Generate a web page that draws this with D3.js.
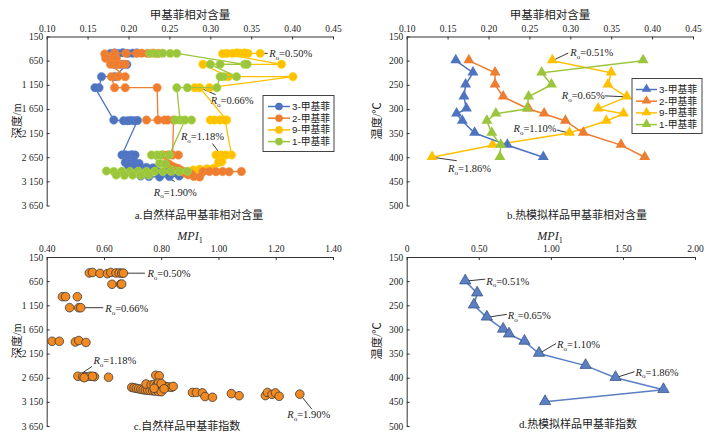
<!DOCTYPE html>
<html><head><meta charset="utf-8">
<script src="https://cdn.jsdelivr.net/npm/d3@7"></script>
<style>body{margin:0;background:#fff}</style>
</head><body>
<svg id="c" width="718" height="441"></svg>
<script>
// ---------------- DATA ----------------
const seriesNames = ['3-甲基菲', '2-甲基菲', '9-甲基菲', '1-甲基菲'];
const relTicks = [0.10, 0.15, 0.20, 0.25, 0.30, 0.35, 0.40, 0.45];
const depthTicks = [150, 650, 1150, 1650, 2150, 2650, 3150, 3650];
const tempTicks = [150, 200, 250, 300, 350, 400, 450, 500];
const mpiNatTicks = [0.40, 0.60, 0.80, 1.00, 1.20, 1.40];
const mpiSimTicks = [0, 0.50, 1.00, 1.50, 2.00];

// a. natural samples: [depth (m), relative content]
const natMP3 = [[490,0.210],[495,0.205],[500,0.199],[485,0.193],[500,0.188],[490,0.183],[500,0.178],
  [730,0.183],[725,0.188],[726,0.193],[730,0.198],[982,0.183],[982,0.167],[1210,0.164],[1210,0.159],
  [1880,0.182],[1895,0.194],[1895,0.199],[1890,0.203],[1895,0.207],[1890,0.211],
  [2604,0.192],[2600,0.196],[2610,0.200],[2600,0.204],[2605,0.208],
  [2700,0.200],[2720,0.206],[2760,0.196],[2780,0.202],[2790,0.208],[2780,0.213],[2830,0.200],[2850,0.207],
  [2850,0.214],[2860,0.222],[2870,0.230],[2940,0.235],[2950,0.245],[3040,0.262],[3050,0.250],[3060,0.238],
  [3050,0.225],[3040,0.215]];
const natMP2 = [[500,0.237],[495,0.230],[500,0.223],[495,0.216],[500,0.210],[500,0.197],[495,0.183],[510,0.171],
  [600,0.172],[605,0.178],[600,0.185],[726,0.196],[726,0.190],[726,0.184],[726,0.178],
  [982,0.196],[982,0.187],[982,0.179],[1210,0.183],[1210,0.196],[1210,0.235],
  [1880,0.236],[1880,0.222],[1880,0.244],[1880,0.248],[1880,0.255],
  [2604,0.254],[2604,0.261],[2604,0.248],[2604,0.242],
  [2776,0.2465],[2800,0.250],[2846,0.2546],[2870,0.258],[2885,0.2606],[2920,0.264],[2946,0.2668],[2980,0.270],
  [3015,0.273],[3000,0.277],[3050,0.280],[3060,0.287],[2950,0.291],[2946,0.299],[2950,0.307],[2946,0.315],
  [2950,0.323],[2946,0.338]];
const natMP9 = [[500,0.361],[500,0.346],[490,0.342],[495,0.336],[490,0.332],[500,0.327],[500,0.320],[505,0.315],
  [726,0.387],[726,0.291],[982,0.322],[982,0.401],[1210,0.299],[1210,0.281],[1210,0.287],
  [1880,0.320],[1880,0.300],[1880,0.305],[1880,0.312],[1880,0.318],
  [2604,0.326],[2604,0.319],[2604,0.313],[2604,0.307],
  [2742,0.314],[2760,0.310],[2880,0.304],[2890,0.296],[2900,0.287],[2915,0.279],[2985,0.267],[2990,0.259],[3000,0.263]];
const natMP1 = [[500,0.226],[505,0.234],[495,0.242],[500,0.251],[500,0.259],
  [726,0.342],[726,0.345],[726,0.312],[726,0.300],[982,0.332],[982,0.316],[982,0.312],
  [1210,0.308],[1210,0.272],[1210,0.259],[1880,0.263],[1880,0.257],[1880,0.277],[1880,0.269],
  [2604,0.250],[2604,0.240],[2604,0.235],[2604,0.228],
  [2780,0.238],[2790,0.245],[2940,0.272],[2945,0.262],[2940,0.252],[2945,0.242],[2940,0.232],[2945,0.222],
  [2940,0.212],[2945,0.202],[2940,0.192],[2945,0.182],[2935,0.173],[3020,0.185],[3025,0.195],[3020,0.205],
  [3025,0.215],[3020,0.225]];

// b. thermal simulation: temperature (°C) and relative content
const tempsB = [200, 225, 250, 275, 300, 310, 325, 350, 375, 400];
const simMP3 = [0.160, 0.181, 0.172, 0.170, 0.173, 0.161, 0.168, 0.183, 0.223, 0.267];
const simMP2 = [0.176, 0.208, 0.208, 0.218, 0.249, 0.268, 0.294, 0.316, 0.362, 0.391];
const simMP9 = [0.278, 0.350, 0.346, 0.369, 0.334, 0.365, 0.344, 0.299, 0.205, 0.131];
const simMP1 = [0.389, 0.265, 0.277, 0.249, 0.247, 0.209, 0.198, 0.204, 0.215, 0.214];

// c. natural samples MPI1: [depth, MPI1]
const natMPI = [[480,0.549],[470,0.560],[490,0.586],[495,0.612],[470,0.624],[480,0.642],[480,0.653],[485,0.662],[485,0.668],
  [715,0.628],[715,0.658],[710,0.662],[972,0.455],[972,0.466],[972,0.507],[1200,0.480],[1200,0.512],[1200,0.519],
  [1896,0.419],[1896,0.444],[1910,0.500],[1880,0.512],[1920,0.537],
  [2620,0.509],[2630,0.526],[2630,0.537],[2620,0.551],[2630,0.567],[2640,0.616],[2650,0.531],[2620,0.560],
  [2600,0.781],[2610,0.793],
  [2850,0.697],[2860,0.705],[2870,0.713],[2880,0.721],[2890,0.729],[2900,0.737],[2905,0.745],[2910,0.753],
  [2915,0.761],[2920,0.770],[2925,0.778],[2935,0.790],[2780,0.747],[2800,0.765],[2790,0.775],[2800,0.785],
  [2810,0.795],[2820,0.805],[2830,0.815],[2840,0.825],[2850,0.835],[2830,0.842],[2760,0.790],[2770,0.800],
  [2940,0.800],[2880,0.810],[2870,0.775],
  [2955,0.909],[2955,0.923],[2965,0.944],[3040,0.953],[3055,0.979],[2980,1.045],[3022,1.072],
  [3020,1.164],[2955,1.171],[2995,1.187],[2965,1.199],[3035,1.212],[2990,1.284]];

// d. thermal simulation MPI1
const tempsD = [200, 225, 250, 275, 300, 310, 325, 350, 375, 400, 425, 450];
const simMPI = [0.406, 0.489, 0.466, 0.556, 0.669, 0.710, 0.817, 0.918, 1.241, 1.449, 1.781, 0.960];

// Ro labels with the data point each one refers to
const roA = [{t:'0.50%', p:[500,0.361]}, {t:'0.66%', p:[1210,0.287]}, {t:'1.18%', p:[2604,0.313]}, {t:'1.90%', p:[3050,0.245]}];
const roB = [{t:'0.51%', p:[200,0.278]}, {t:'0.65%', p:[275,0.369]}, {t:'1.10%', p:[350,0.299]}, {t:'1.86%', p:[400,0.131]}];
const roC = [{t:'0.50%', p:[485,0.668]}, {t:'0.66%', p:[1200,0.519]}, {t:'1.18%', p:[2614,0.509]}, {t:'1.90%', p:[2990,1.284]}];
const roD = [{t:'0.51%', p:[200,0.406]}, {t:'0.65%', p:[275,0.556]}, {t:'1.10%', p:[350,0.918]}, {t:'1.86%', p:[400,1.449]}];

// ---------------- STYLE / LAYOUT ----------------
const colors = ['#4f74bf', '#ed7d31', '#ffc000', '#9bc53d'];
const serif = "'Liberation Serif','Times New Roman',serif";
const cjk = "'Liberation Serif','Noto Sans CJK SC',sans-serif";
const legFont = "'Liberation Sans','Noto Sans CJK SC',sans-serif";
const svg = d3.select('#c');

const L = {
  a: {x0:46.7, x1:333, y0:36.5, y1:205.5},
  b: {x0:406.7, x1:693, y0:36.5, y1:205.5},
  c: {x0:46.7, x1:333, y0:257, y1:426},
  d: {x0:406.7, x1:695, y0:257, y1:426}
};
// annotation offsets [leader end dx,dy], [text dx,dy], anchor
const offA = [[[7.5,0],[9,4],'start'], [[16,7],[11,16.5],'start'], [[-8.5,-11.5],[-40,-14.5],'start'], [[9.5,5],[-11.5,19],'start']];
const offB = [[[16,-7.6],[18,-4.6],'start'], [[-22,-1],[-22,2.6],'end'], [[-12.5,-3],[-13,-1],'end'], [[24.7,3.5],[16,15],'start']];
const offC = [[[21.5,0],[24,4.3],'start'], [[22.5,0],[24.5,4.3],'start'], [[14,-9.5],[15.5,-11.5],'start'], [[12,15],[-12.5,24],'start']];
const offD = [[[20,-2],[21,3.5],'start'], [[20,-3],[21,2],'start'], [[17,-10],[18,-5.5],'start'], [[19,-6],[20,-2],'start']];

const fmt2 = d3.format('.2f');
const depthFmt2 = v => v >= 1000 ? Math.floor(v/1000) + ' ' + String(v % 1000).padStart(3,'0') : String(v);

function makeAxes(lay, xDom, yDom, xTicks, yTicks, xf, yf) {
  const x = d3.scaleLinear().domain(xDom).range([lay.x0, lay.x1]);
  const y = d3.scaleLinear().domain(yDom).range([lay.y0, lay.y1]);
  const gx = svg.append('g').attr('transform', `translate(0,${lay.y0})`)
    .call(d3.axisTop(x).tickValues(xTicks).tickFormat(xf).tickSize(-3).tickSizeOuter(0).tickPadding(5));
  const gy = svg.append('g').attr('transform', `translate(${lay.x0},0)`)
    .call(d3.axisLeft(y).tickValues(yTicks).tickFormat(yf).tickSize(-3).tickSizeOuter(0).tickPadding(3.5));
  [gx, gy].forEach(g => {
    g.select('.domain').attr('stroke', '#333').attr('stroke-width', 1);
    g.selectAll('.tick line').attr('stroke', '#333');
    g.selectAll('.tick text').attr('fill', '#222').style('font-family', serif).style('font-size', '9.5px');
  });
  return {x, y};
}

function title(xc, yc, txt, size) {
  svg.append('text').attr('x', xc).attr('y', yc).attr('text-anchor', 'middle')
    .style('font-family', cjk).style('font-size', (size || 11.5) + 'px').attr('fill', '#222').text(txt);
}
function ylabel(xc, yc, txt) {
  svg.append('text').attr('transform', `translate(${xc},${yc}) rotate(-90)`).attr('text-anchor', 'middle')
    .style('font-family', cjk).style('font-size', '11.5px').attr('fill', '#222').text(txt);
}
function mpiTitle(xc, yc) {
  const t = svg.append('text').attr('x', xc).attr('y', yc).attr('text-anchor', 'middle')
    .style('font-family', serif).style('font-size', '12px').attr('fill', '#222');
  t.append('tspan').style('font-style', 'italic').text('MPI');
  t.append('tspan').attr('dy', 3).style('font-size', '8px').text('1');
}
function roNotes(list, offs, sx, sy, pt) {
  list.forEach((d, i) => {
    const [px, py] = pt(d.p, sx, sy);
    const o = offs[i];
    svg.append('line').attr('x1', px).attr('y1', py).attr('x2', px + o[0][0]).attr('y2', py + o[0][1])
      .attr('stroke', '#222').attr('stroke-width', 0.9);
    const t = svg.append('text').attr('x', px + o[1][0]).attr('y', py + o[1][1]).attr('text-anchor', o[2])
      .style('font-family', serif).style('font-size', '10.5px').attr('fill', '#222');
    t.append('tspan').style('font-style', 'italic').text('R');
    t.append('tspan').attr('dy', 2.5).style('font-size', '7px').text('o');
    t.append('tspan').attr('dy', -2.5).text('=' + d.t);
  });
}
function legend(bx, by, bw, bh, firstY, step, lineX0, lineX1, textX, marker) {
  const lg = svg.append('g');
  lg.append('rect').attr('x', bx).attr('y', by).attr('width', bw).attr('height', bh)
    .attr('fill', '#fff').attr('stroke', '#444').attr('stroke-width', 1);
  seriesNames.forEach((n, i) => {
    const yy = firstY + i * step;
    lg.append('line').attr('x1', lineX0).attr('x2', lineX1).attr('y1', yy).attr('y2', yy).attr('stroke', colors[i]).attr('stroke-width', 1.5);
    const cx = (lineX0 + lineX1) / 2;
    if (marker === 'circle') lg.append('circle').attr('cx', cx).attr('cy', yy).attr('r', 3.8).attr('fill', colors[i]);
    else lg.append('path').attr('d', d3.symbol().type(d3.symbolTriangle).size(40)).attr('transform', `translate(${cx},${yy - 0.5})`).attr('fill', colors[i]);
    lg.append('text').attr('x', textX).attr('y', yy + 3.5).style('font-family', legFont)
      .style('font-size', '9.8px').attr('fill', '#222').text(n);
  });
}

// ---------------- PANEL A ----------------
{
  const {x, y} = makeAxes(L.a, [0.10, 0.45], [150, 3650], relTicks, depthTicks, fmt2, depthFmt2);
  const pt = (p, sx, sy) => [sx(p[1]), sy(p[0])];
  roNotes(roA, offA, x, y, pt);
  const line = d3.line().x(d => x(d[1])).y(d => y(d[0]));
  const sets = [natMP3, natMP2, natMP9, natMP1];
  [2, 0, 1, 3].forEach(i => {
    const g = svg.append('g');
    g.append('path').attr('d', line(sets[i])).attr('fill', 'none').attr('stroke', colors[i]).attr('stroke-width', 1.3);
    g.selectAll('circle').data(sets[i]).join('circle')
      .attr('cx', d => x(d[1])).attr('cy', d => y(d[0])).attr('r', 4.2)
      .attr('fill', colors[i]).attr('stroke', d3.color(colors[i]).brighter(0.3)).attr('stroke-width', 0.5);
  });
  legend(263, 95.5, 71, 56, 106.5, 11.7, 268, 290, 292, 'circle');
  title(190, 19, '甲基菲相对含量');
  ylabel(21, 121, '深度/m');
  title(199, 219, 'a.自然样品甲基菲相对含量', 11);
}

// ---------------- PANEL B ----------------
{
  const {x, y} = makeAxes(L.b, [0.10, 0.45], [150, 500], relTicks, tempTicks, fmt2, d3.format('d'));
  const pt = (p, sx, sy) => [sx(p[1]), sy(p[0])];
  roNotes(roB, offB, x, y, pt);
  const sets = [simMP3, simMP2, simMP9, simMP1];
  const tri = d3.symbol().type(d3.symbolTriangle).size(52);
  [2, 0, 1, 3].forEach(i => {
    const pts = tempsB.map((t, k) => [t, sets[i][k]]);
    const g = svg.append('g');
    g.append('path').attr('d', d3.line().x(d => x(d[1])).y(d => y(d[0]))(pts))
      .attr('fill', 'none').attr('stroke', colors[i]).attr('stroke-width', 1.5);
    g.selectAll('path.m').data(pts).join('path').attr('class', 'm').attr('d', tri)
      .attr('transform', d => `translate(${x(d[1])},${y(d[0]) - 0.5})`).attr('fill', colors[i]);
  });
  legend(632, 78.5, 70, 55, 89.5, 11.7, 636, 657, 659, 'triangle');
  title(550, 19, '甲基菲相对含量');
  ylabel(381, 121, '温度/℃');
  title(577, 219, 'b.热模拟样品甲基菲相对含量', 11);
}

// ---------------- PANEL C ----------------
{
  const {x, y} = makeAxes(L.c, [0.40, 1.40], [150, 3650], mpiNatTicks, depthTicks, fmt2, depthFmt2);
  const pt = (p, sx, sy) => [sx(p[1]), sy(p[0])];
  roNotes(roC, offC, x, y, pt);
  svg.append('g').selectAll('circle').data(natMPI).join('circle')
    .attr('cx', d => x(d[1])).attr('cy', d => y(d[0])).attr('r', 4.3)
    .attr('fill', '#f28a22').attr('stroke', '#3a3a3a').attr('stroke-width', 0.8);
  mpiTitle(190, 240);
  ylabel(21, 341, '深度/m');
  title(187, 430, 'c.自然样品甲基菲指数', 11);
}

// ---------------- PANEL D ----------------
{
  const {x, y} = makeAxes(L.d, [0, 2], [150, 500], mpiSimTicks, tempTicks, v => v === 0 ? '0' : fmt2(v), d3.format('d'));
  const pt = (p, sx, sy) => [sx(p[1]), sy(p[0])];
  roNotes(roD, offD, x, y, pt);
  const pts = tempsD.map((t, k) => [t, simMPI[k]]);
  svg.append('path').attr('d', d3.line().x(d => x(d[1])).y(d => y(d[0]))(pts))
    .attr('fill', 'none').attr('stroke', '#5b7fc2').attr('stroke-width', 1.5);
  svg.append('g').selectAll('path').data(pts).join('path').attr('d', d3.symbol().type(d3.symbolTriangle).size(55))
    .attr('transform', d => `translate(${x(d[1])},${y(d[0]) - 0.5})`)
    .attr('fill', '#5b7fc2').attr('stroke', '#2f4a80').attr('stroke-width', 0.7);
  mpiTitle(550, 240);
  ylabel(381, 341, '温度/℃');
  title(578, 428, 'd.热模拟样品甲基菲指数', 11);
}
</script>
</body></html>
